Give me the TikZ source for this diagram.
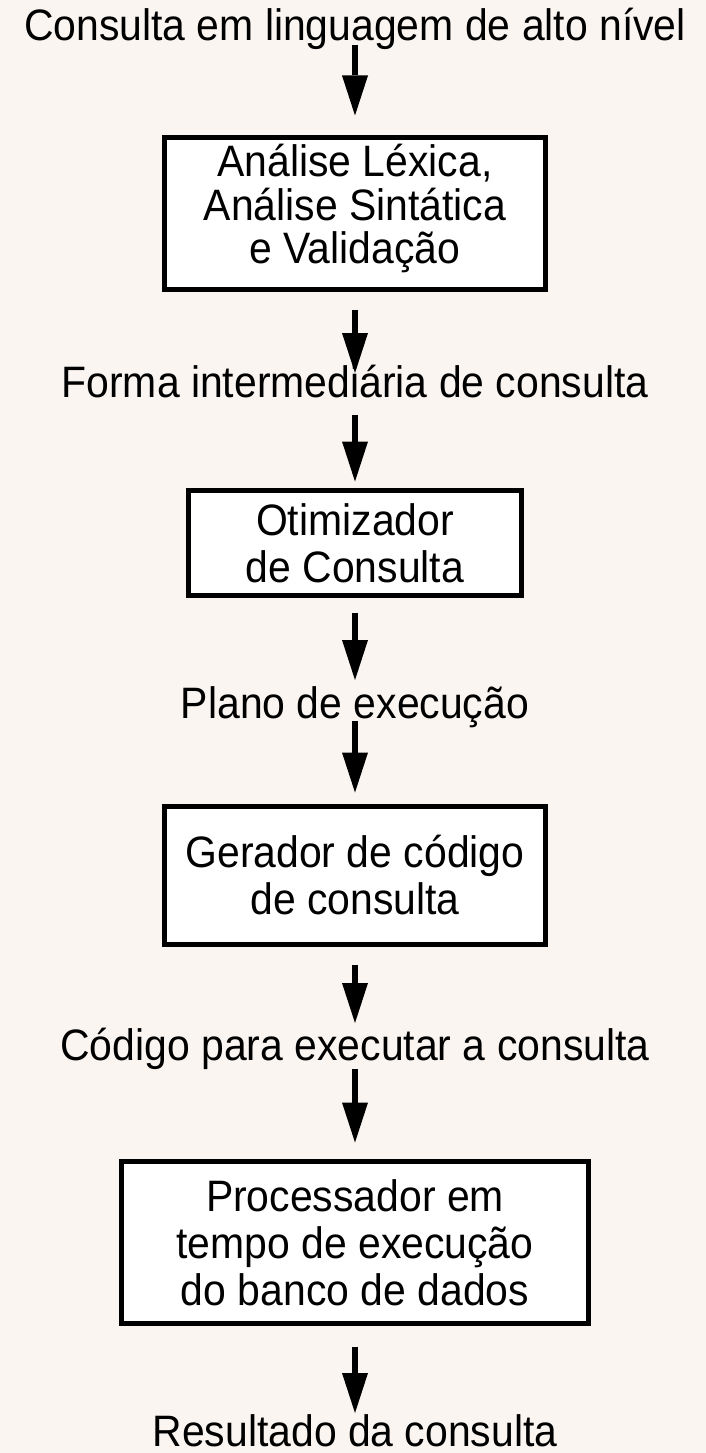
\documentclass[tikz,border=0pt]{standalone}
\usepackage{fontspec}
\setmainfont[FakeStretch=0.93]{Liberation Sans}
\usetikzlibrary{arrows.meta}

\definecolor{bgcream}{RGB}{250,245,241}

\tikzset{every picture/.style={line width=0.75pt}}
\tikzset{
  procbox/.style={draw, fill=white, line width=5pt, inner sep=0pt, align=center, font=\fontsize{44}{47}\selectfont},
  flowtext/.style={inner sep=0pt, anchor=base, font=\fontsize{44}{47}\selectfont},
  flowarrow/.style={line width=6pt, -{Triangle[length=40pt,width=26pt,line width=0pt]}}
}

\begin{document}
\begin{tikzpicture}[x=1pt,y=1pt,yscale=-1,xscale=1]
%set diagram left start at 0, and has height of 1453
\fill [bgcream] (0,0) rectangle (706,1453);
\useasboundingbox (0,0) rectangle (706,1453);

% Text Node
\draw (355,41) node [flowtext] (query) {Consulta em linguagem de alto nível};
%Flowchart: Process
\draw (355,213.5) node [procbox, minimum width=381pt, minimum height=152pt, font=\fontsize{44}{37}\selectfont] (parser) {\raisebox{0pt}[\height][\dimexpr\depth+8pt\relax]{\begin{tabular}{@{}c@{}}Análise Léxica,\\Análise Sintática\\e Validação\end{tabular}}};
% Text Node
\draw (355,397) node [flowtext] (interm) {Forma intermediária de consulta};
%Flowchart: Process
\draw (355,543) node [procbox, minimum width=333pt, minimum height=105pt] (optim) {Otimizador\\de Consulta};
% Text Node
\draw (355,718) node [flowtext] (plan) {Plano de execução};
%Flowchart: Process
\draw (355,875.5) node [procbox, minimum width=381pt, minimum height=138pt] (codegen) {Gerador de código\\de consulta};
% Text Node
\draw (355,1060) node [flowtext] (code) {Código para executar a consulta};
%Flowchart: Process
\draw (355,1242.5) node [procbox, minimum width=467pt, minimum height=162pt] (runtime) {Processador em\\tempo de execução\\do banco de dados};
% Text Node
\draw (355,1446) node [flowtext] (result) {Resultado da consulta};

%Straight Lines
\draw [flowarrow, shorten <=4pt, shorten >=19.5pt] (query.base) -- (parser.north);
%Straight Lines
\draw [flowarrow, shorten <=17.5pt, shorten >=24pt] (parser.south) -- (interm.base);
%Straight Lines
\draw [flowarrow, shorten <=18pt, shorten >=6.5pt] (interm.base) -- (optim.north);
%Straight Lines
\draw [flowarrow, shorten <=14.5pt, shorten >=38pt] (optim.south) -- (plan.base);
%Straight Lines
\draw [flowarrow, shorten <=3pt, shorten >=11.5pt] (plan.base) -- (codegen.north);
%Straight Lines
\draw [flowarrow, shorten <=17.5pt, shorten >=37pt] (codegen.south) -- (code.base);
%Straight Lines
\draw [flowarrow, shorten <=9pt, shorten >=16.5pt] (code.base) -- (runtime.north);
%Straight Lines
\draw [flowarrow, shorten <=20.5pt, shorten >=33pt] (runtime.south) -- (result.base);

\end{tikzpicture}
\end{document}
